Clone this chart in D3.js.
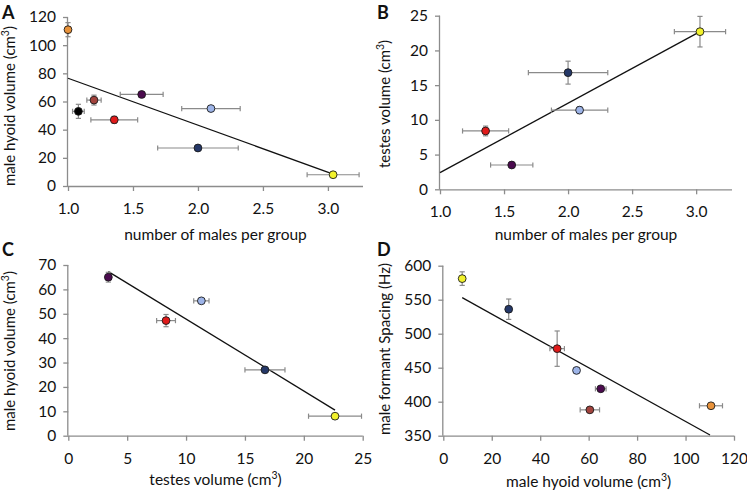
<!DOCTYPE html>
<html>
<head>
<meta charset="utf-8">
<script src="https://cdn.jsdelivr.net/npm/d3@7"></script>
<style>
  body { margin: 0; background: #fff; }
  svg { display: block; }
  text { font-family: Lato, "Open Sans", sans-serif; fill: #111; }
</style>
</head>
<body>
<svg id="chart" width="747" height="492"></svg>
<script>
// ---------- species colours ----------
const colors = {
  orange: "#e8923a", black: "#000000", brown: "#a2433d", red: "#e01b1b",
  purple: "#4b0a4e", lightblue: "#9db4e8", navy: "#253868", yellow: "#f2f22b"
};

// ---------- Panel A: males per group vs male hyoid volume ----------
const aSpecies = ["orange", "black", "brown", "red", "purple", "lightblue", "navy", "yellow"];
const aX      = [1.00, 1.08, 1.20, 1.356, 1.567, 2.10, 2.00, 3.04];
const aXerr   = [0, 0.045, 0.055, 0.18, 0.165, 0.225, 0.31, 0.20];
const aY      = [111, 53, 61, 47, 65, 55, 27, 8];
const aYerr   = [5, 5, 3.5, 2.5, 1.5, 1, 1, 1];
const aFit    = [[1.0, 76.5], [3.04, 8.5]];
const aXTicks = [1.0, 1.5, 2.0, 2.5, 3.0];
const aYTicks = [0, 20, 40, 60, 80, 100, 120];

// ---------- Panel B: males per group vs testes volume ----------
const bSpecies = ["red", "purple", "lightblue", "navy", "yellow"];
const bX      = [1.356, 1.56, 2.09, 2.00, 3.03];
const bXerr   = [0.18, 0.165, 0.22, 0.31, 0.20];
const bY      = [8.4, 3.5, 11.4, 16.8, 22.7];
const bYerr   = [0.7, 0.3, 0.5, 1.65, 2.2];
const bFit    = [[1.0, 2.4], [3.03, 22.7]];
const bXTicks = [1.0, 1.5, 2.0, 2.5, 3.0];
const bYTicks = [0, 5, 10, 15, 20, 25];

// ---------- Panel C: testes volume vs male hyoid volume ----------
const cSpecies = ["purple", "lightblue", "red", "navy", "yellow"];
const cX      = [3.4, 11.3, 8.3, 16.7, 22.65];
const cXerr   = [0.2, 0.65, 0.8, 1.7, 2.25];
const cY      = [65, 55.3, 47.2, 27, 8];
const cYerr   = [2, 0.5, 2.5, 0.5, 0.5];
const cFit    = [[3.4, 67.3], [22.65, 10.5]];
const cXTicks = [0, 5, 10, 15, 20, 25];
const cYTicks = [0, 10, 20, 30, 40, 50, 60, 70];

// ---------- Panel D: male hyoid volume vs male formant spacing ----------
const dSpecies = ["yellow", "navy", "red", "lightblue", "purple", "brown", "orange"];
const dX      = [7.8, 27, 47, 55, 65, 60.5, 110.5];
const dXerr   = [0, 0, 3, 0, 2.2, 4, 4.75];
const dY      = [581, 536, 478, 446, 419, 388, 394];
const dYerr   = [10, 15, 26, 0, 3, 3, 3];
const dFit    = [[7.8, 553], [110.1, 351]];
const dXTicks = [0, 20, 40, 60, 80, 100, 120];
const dYTicks = [350, 400, 450, 500, 550, 600];

const svg = d3.select("#chart");
const tickFont = 15.5, xTitleFont = 15.5, yTitleFont = 15;

function drawPanel(p) {
  const x = d3.scaleLinear().domain(p.xDomain).range(p.xRange);
  const y = d3.scaleLinear().domain(p.yDomain).range(p.yRange);
  const g = svg.append("g");

  const axisColor = "#8c8c8c";
  const xAxis = g.append("g").attr("transform", `translate(0,${p.yRange[0]})`)
    .call(d3.axisBottom(x).tickValues(p.xTicks).tickSize(5).tickPadding(12)
      .tickFormat(p.xFmt));
  const yAxis = g.append("g").attr("transform", `translate(${p.xRange[0]},0)`)
    .call(d3.axisLeft(y).tickValues(p.yTicks).tickSize(5).tickPadding(7)
      .tickFormat(d3.format("d")));
  [xAxis, yAxis].forEach(a => {
    a.select(".domain").attr("stroke", axisColor).attr("stroke-width", 1.3);
    a.selectAll(".tick line").attr("stroke", axisColor).attr("stroke-width", 1.3);
    a.selectAll(".tick text").attr("font-family", "Lato, 'Open Sans', sans-serif")
      .attr("font-size", tickFont).attr("fill", "#111");
  });
  xAxis.select(".domain").attr("d", `M${p.xRange[0]},0.5H${p.xRange[1]}`);
  yAxis.select(".domain").attr("d", `M-0.5,${p.yRange[0]}V${p.yRange[1]}`);

  // regression line
  g.append("line")
    .attr("x1", x(p.fit[0][0])).attr("y1", y(p.fit[0][1]))
    .attr("x2", x(p.fit[1][0])).attr("y2", y(p.fit[1][1]))
    .attr("stroke", "#111").attr("stroke-width", 1.3);

  const data = p.species.map((s, i) => ({ s, x: p.xs[i], y: p.ys[i], xe: p.xe[i], ye: p.ye[i] }));
  const errColor = "#8a8a8a", cap = 2.6;
  const eg = g.append("g").attr("stroke", errColor).attr("stroke-width", 1.2);
  data.forEach(d => {
    if (d.xe > 0) {
      const x1 = x(d.x - d.xe), x2 = x(d.x + d.xe), yy = y(d.y);
      eg.append("line").attr("x1", x1).attr("x2", x2).attr("y1", yy).attr("y2", yy);
      eg.append("line").attr("x1", x1).attr("x2", x1).attr("y1", yy - cap).attr("y2", yy + cap);
      eg.append("line").attr("x1", x2).attr("x2", x2).attr("y1", yy - cap).attr("y2", yy + cap);
    }
    if (d.ye > 0) {
      const y1 = y(d.y - d.ye), y2 = y(d.y + d.ye), xx = x(d.x);
      eg.append("line").attr("x1", xx).attr("x2", xx).attr("y1", y1).attr("y2", y2);
      eg.append("line").attr("x1", xx - cap).attr("x2", xx + cap).attr("y1", y1).attr("y2", y1);
      eg.append("line").attr("x1", xx - cap).attr("x2", xx + cap).attr("y1", y2).attr("y2", y2);
    }
  });

  g.append("g").selectAll("circle").data(data).join("circle")
    .attr("cx", d => x(d.x)).attr("cy", d => y(d.y)).attr("r", 3.9)
    .attr("fill", d => colors[d.s]).attr("stroke", "#1a1a1a").attr("stroke-width", 0.9);

  // axis titles
  const xt = g.append("text").attr("x", (p.xRange[0] + p.xRange[1]) / 2)
    .attr("y", p.xTitleY).attr("text-anchor", "middle").attr("font-size", xTitleFont);
  addTitle(xt, p.xTitle);
  const yt = g.append("text").attr("transform", `translate(${p.yTitleX},${p.yTitleCy}) rotate(-90)`)
    .attr("text-anchor", "middle").attr("font-size", yTitleFont);
  addTitle(yt, p.yTitle);

  // panel letter
  g.append("text").attr("x", p.letterX).attr("y", p.letterY).text(p.letter)
    .attr("font-family", "'Liberation Sans', Arial, sans-serif").attr("font-weight", "bold")
    .attr("font-size", 18).attr("fill", "#000");
}

function addTitle(t, parts) {
  parts.forEach(part => {
    if (typeof part === "string") t.append("tspan").text(part);
    else t.append("tspan").text(part.sup).attr("font-size", 10.5).attr("baseline-shift", "super");
  });
}

const hyoid = ["male hyoid volume (cm", { sup: "3" }, ")"];
const testes = ["testes volume (cm", { sup: "3" }, ")"];
const males = ["number of males per group"];
const fmt1 = d3.format(".1f"), fmt0 = d3.format("d");

drawPanel({ letter: "A", letterX: 2, letterY: 19,
  species: aSpecies, xs: aX, xe: aXerr, ys: aY, ye: aYerr, fit: aFit,
  xDomain: [1, 3.27], xRange: [68, 363], yDomain: [0, 120], yRange: [186, 17],
  xTicks: aXTicks, yTicks: aYTicks, xFmt: fmt1,
  xTitle: males, xTitleY: 240, yTitle: hyoid, yTitleX: 15, yTitleCy: 106 });

drawPanel({ letter: "B", letterX: 377, letterY: 19,
  species: bSpecies, xs: bX, xe: bXerr, ys: bY, ye: bYerr, fit: bFit,
  xDomain: [1, 3.28], xRange: [440, 732], yDomain: [0, 25], yRange: [189.3, 15.7],
  xTicks: bXTicks, yTicks: bYTicks, xFmt: fmt1,
  xTitle: males, xTitleY: 240, yTitle: testes, yTitleX: 390, yTitleCy: 104 });

drawPanel({ letter: "C", letterX: 2, letterY: 256,
  species: cSpecies, xs: cX, xe: cXerr, ys: cY, ye: cYerr, fit: cFit,
  xDomain: [0, 25], xRange: [68.3, 362.7], yDomain: [0, 70], yRange: [435.7, 265],
  xTicks: cXTicks, yTicks: cYTicks, xFmt: fmt0,
  xTitle: testes, xTitleY: 485, yTitle: hyoid, yTitleX: 15, yTitleCy: 351 });

drawPanel({ letter: "D", letterX: 377, letterY: 256,
  species: dSpecies, xs: dX, xe: dXerr, ys: dY, ye: dYerr, fit: dFit,
  xDomain: [0, 120], xRange: [443.3, 734], yDomain: [350, 600], yRange: [435.7, 265.7],
  xTicks: dXTicks, yTicks: dYTicks, xFmt: fmt0,
  xTitle: hyoid, xTitleY: 487, yTitle: ["male formant Spacing (Hz)"], yTitleX: 390, yTitleCy: 349 });
</script>
</body>
</html>
